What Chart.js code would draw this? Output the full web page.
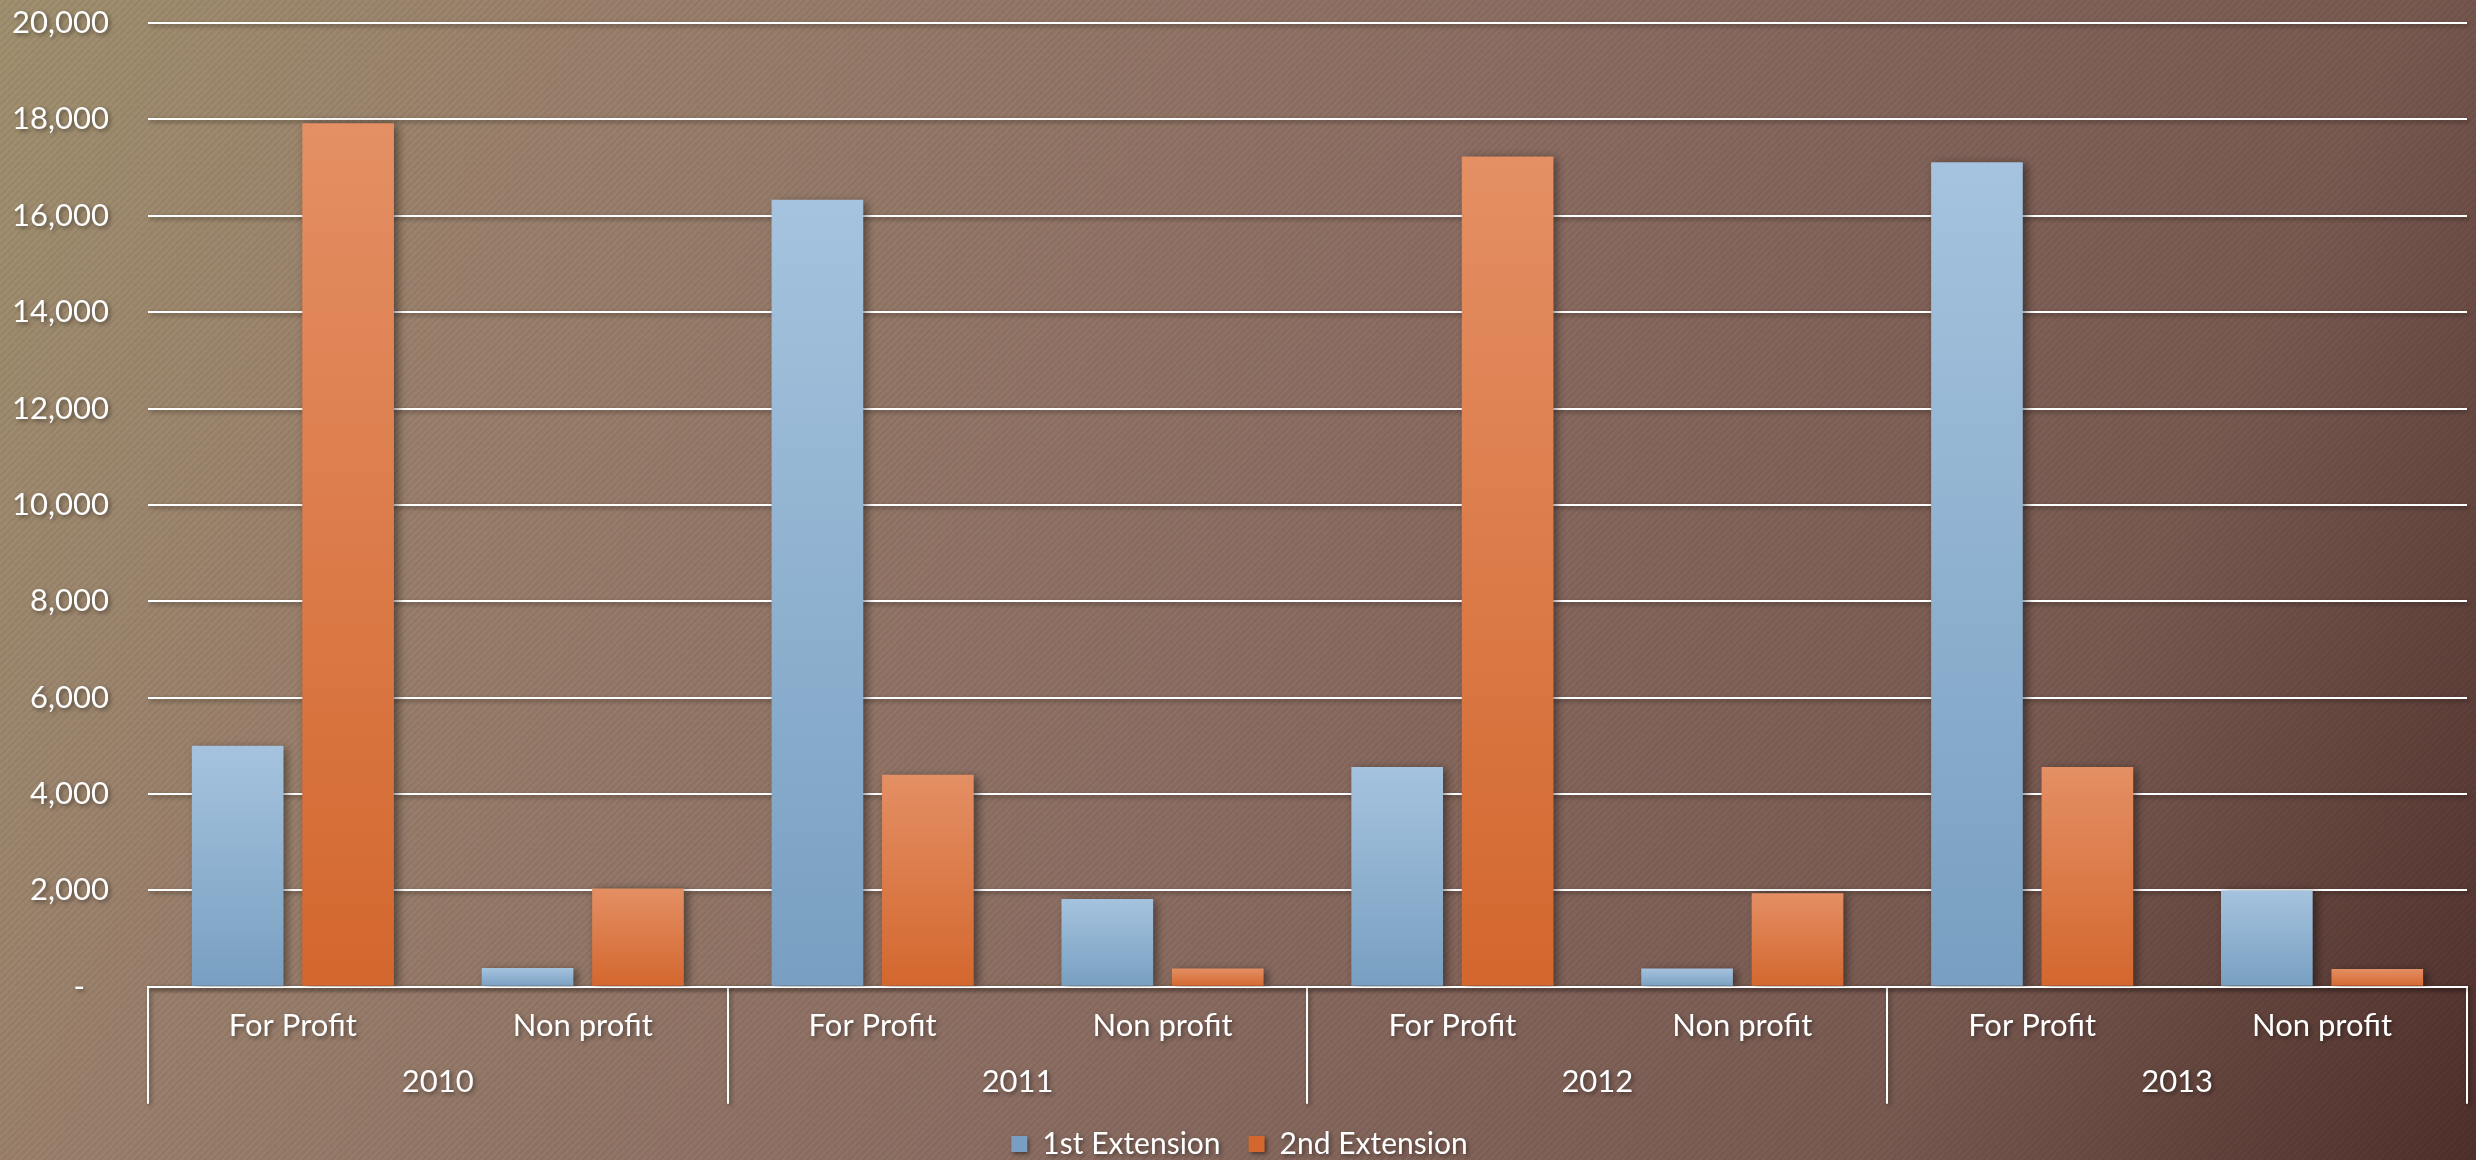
<!DOCTYPE html>
<html lang="en">
<head>
    <meta charset="UTF-8">
    <title>Extensions by Year</title>
    <script src="https://cdn.jsdelivr.net/npm/chart.js"></script>
    <style>
        html, body { margin: 0; padding: 0; overflow: hidden; background: #8a6e62; }
        #wrap { width: 2476px; height: 1160px; position: relative; }
    </style>
</head>
<body>
    <div id="wrap"><canvas id="extChart"></canvas></div>

    <script>
        // data
        const years = ['2010', '2011', '2012', '2013'];
        const orgTypes = ['For Profit', 'Non profit'];
        const firstExt = [5000, 390, 16330, 1820, 4560, 380, 17110, 2000];
        const secondExt = [17920, 2040, 4400, 380, 17230, 1940, 4560, 370];
        const yTicks = { min: 0, max: 20000, step: 2000 };

        const categories = [];
        years.forEach(() => orgTypes.forEach(t => categories.push(t)));

        const FONT = 'Lato, "Open Sans", sans-serif';

        // per-bar vertical gradient (light at the top, darker at the base)
        function barFill(topColor, baseColor, flat) {
            return (c) => {
                const chart = c.chart;
                if (!chart.chartArea || c.type !== 'data') return flat;
                const y = chart.scales.y;
                const g = chart.ctx.createLinearGradient(0, y.getPixelForValue(c.raw), 0, y.getPixelForValue(0));
                g.addColorStop(0, topColor);
                g.addColorStop(1, baseColor);
                return g;
            };
        }

        // striped brown gradient backdrop + soft shadow for everything after it
        const backdrop = {
            id: 'backdrop',
            beforeDraw(chart) {
                const { ctx, width, height } = chart;
                ctx.save();
                ctx.shadowColor = 'transparent';
                const g = ctx.createLinearGradient(0, 0, width, height);
                g.addColorStop(0, '#a0906f');
                g.addColorStop(0.2, '#9a806c');
                g.addColorStop(0.5, '#8c6e63');
                g.addColorStop(0.8, '#785a51');
                g.addColorStop(1, '#50302b');
                ctx.fillStyle = g;
                ctx.fillRect(0, 0, width, height);

                const tile = document.createElement('canvas');
                tile.width = 7; tile.height = 7;
                const t = tile.getContext('2d');
                t.strokeStyle = 'rgba(0,0,0,0.06)';
                t.lineWidth = 2;
                t.beginPath();
                t.moveTo(-1, 8); t.lineTo(8, -1);
                t.stroke();
                ctx.fillStyle = ctx.createPattern(tile, 'repeat');
                ctx.fillRect(0, 0, width, height);
                ctx.restore();

                ctx.shadowColor = 'rgba(0,0,0,0.45)';
                ctx.shadowBlur = 4;
                ctx.shadowOffsetX = 2;
                ctx.shadowOffsetY = 2;
            },
            beforeDatasetsDraw(chart) {
                chart.ctx.shadowBlur = 9;
                chart.ctx.shadowOffsetX = 4;
                chart.ctx.shadowOffsetY = 2;
            },
            afterDatasetsDraw(chart) {
                chart.ctx.shadowBlur = 4;
                chart.ctx.shadowOffsetX = 2;
                chart.ctx.shadowOffsetY = 2;
            }
        };

        const ctx = document.getElementById('extChart').getContext('2d');
        new Chart(ctx, {
            type: 'bar',
            data: {
                labels: categories,
                datasets: [
                    {
                        label: '1st Extension',
                        data: firstExt,
                        backgroundColor: barFill('#a5c3de', '#789fc1', '#93b6d6'),
                        categoryPercentage: 0.762,
                        barPercentage: 0.83
                    },
                    {
                        label: '2nd Extension',
                        data: secondExt,
                        backgroundColor: barFill('#e48f64', '#d3672e', '#e07c45'),
                        categoryPercentage: 0.762,
                        barPercentage: 0.83
                    }
                ]
            },
            options: {
                responsive: true,
                maintainAspectRatio: false,
                animation: false,
                layout: { padding: { left: 12, right: 9, top: 23, bottom: -9 } },
                plugins: {
                    tooltip: { enabled: false },
                    legend: {
                        position: 'bottom',
                        labels: {
                            color: '#ffffff',
                            font: { family: FONT, size: 30 },
                            boxWidth: 16,
                            boxHeight: 16,
                            padding: 28
                        }
                    }
                },
                scales: {
                    y: {
                        min: yTicks.min,
                        max: yTicks.max,
                        border: { display: false },
                        grid: { color: '#ffffff', lineWidth: 2, tickLength: 39, tickColor: 'rgba(0,0,0,0)' },
                        ticks: {
                            stepSize: yTicks.step,
                            padding: 0,
                            color: '#ffffff',
                            font: { family: FONT, size: 31 },
                            callback: v => v === 0 ? '-   ' : v.toLocaleString('en-US')
                        }
                    },
                    x: {
                        weight: 0,
                        border: { display: true, color: '#ffffff', width: 2 },
                        grid: {
                            drawOnChartArea: false,
                            tickLength: 117,
                            lineWidth: 2,
                            color: c => (c.index === undefined || c.index % 2 === 0) ? '#ffffff' : 'rgba(0,0,0,0)'
                        },
                        ticks: {
                            mirror: true,
                            padding: -58,
                            autoSkip: false,
                            maxRotation: 0,
                            color: '#ffffff',
                            font: { family: FONT, size: 31 }
                        }
                    },
                    x2: {
                        type: 'category',
                        position: 'bottom',
                        weight: 1,
                        labels: years,
                        offset: true,
                        border: { display: false },
                        grid: {
                            offset: true,
                            drawOnChartArea: false,
                            tickLength: 76,
                            color: 'rgba(0,0,0,0)'
                        },
                        ticks: {
                            padding: 0,
                            autoSkip: false,
                            maxRotation: 0,
                            color: '#ffffff',
                            font: { family: FONT, size: 31 }
                        }
                    }
                }
            },
            plugins: [backdrop]
        });
    </script>
</body>
</html>
